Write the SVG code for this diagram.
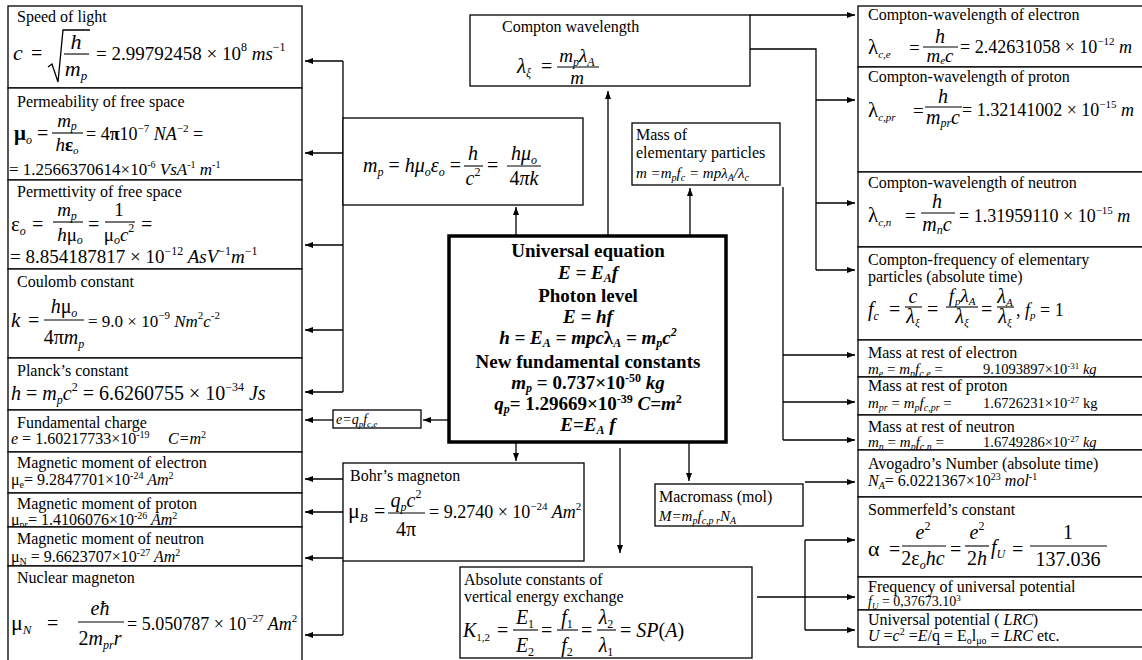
<svg xmlns="http://www.w3.org/2000/svg" width="1142" height="660" viewBox="0 0 1142 660">
<defs>
<style>
text{font-family:"Liberation Serif","Times New Roman",serif;fill:#000}
.lb{font-size:16px}
.i{font-style:italic}
.n{font-style:normal}
.b{font-weight:bold}
.m{text-anchor:middle}
.bx{fill:#fff;stroke:#000;stroke-width:1.3}
.cbx{fill:#fff;stroke:#000;stroke-width:3.5}
.fr{stroke:#000;stroke-width:1.1}
.cn{fill:none;stroke:#000;stroke-width:1.3}
.ar{fill:none;stroke:#000;stroke-width:1.3;marker-end:url(#ah)}
</style>
<marker id="ah" viewBox="0 0 8 6" refX="8" refY="3" markerWidth="8" markerHeight="6" markerUnits="userSpaceOnUse" orient="auto"><path d="M0,0 L8,3 L0,6 z" fill="#000"/></marker>
</defs>
<rect width="1142" height="660" fill="#fff"/>
<g font-size="20">

<g id="connectors">
<path class="cn" d="M343,61 V392"/>
<path class="ar" d="M343,61 H305"/>
<path class="ar" d="M343,153 H305"/>
<path class="ar" d="M343,245 H305"/>
<path class="ar" d="M343,330 H305"/>
<path class="ar" d="M343,392 H305"/>
<path class="ar" d="M449,420 H423"/>
<path class="ar" d="M333,420 H305"/>
<path class="cn" d="M343,561 V635"/>
<path class="ar" d="M343,479 H305"/>
<path class="ar" d="M343,512 H305"/>
<path class="ar" d="M343,558 H305"/>
<path class="ar" d="M343,635 H305"/>
<path class="ar" d="M516,236 V207"/>
<path class="ar" d="M608,236 V91"/>
<path class="ar" d="M690,236 V188"/>
<path class="ar" d="M516,442 V461"/>
<path class="ar" d="M620,448 V553"/>
<path class="ar" d="M689,442 V481"/>
<path class="ar" d="M750,15 H855"/>
<path class="cn" d="M750,49 H816 V270"/>
<path class="ar" d="M816,100 H855"/>
<path class="ar" d="M816,203 H855"/>
<path class="ar" d="M816,270 H855"/>
<path class="cn" d="M783,187 V440"/>
<path class="ar" d="M783,355 H855"/>
<path class="ar" d="M783,402 H855"/>
<path class="ar" d="M783,440 H855"/>
<path class="ar" d="M805,482 H855"/>
<path class="ar" d="M757,597 H855"/>
<path class="cn" d="M805,540 V630"/>
<path class="ar" d="M805,540 H855"/>
<path class="ar" d="M805,630 H855"/>
</g>

<g id="n-speed">
<rect class="bx" x="8" y="6" width="294" height="82"/>
<text class="lb" x="17" y="22">Speed of light</text>
<text class="i" x="13" y="60" font-size="22">c</text>
<text x="31" y="60">=</text>
<path class="cn" d="M48,67 L52,64 L58,82 L63,30 L90,30"/>
<text class="i m" x="76" y="49" font-size="22">h</text>
<line class="fr" x1="64" y1="54" x2="89" y2="54"/>
<text class="i m" x="76" y="76" font-size="22">m<tspan font-size="13" dy="4">p</tspan></text>
<text x="96" y="60" font-size="19">= 2.99792458 × 10<tspan font-size="12" dy="-9">8</tspan><tspan class="i" dy="9"> ms</tspan><tspan font-size="12" dy="-9">−1</tspan></text>
</g>

<g id="n-permeability">
<rect class="bx" x="8" y="88" width="294" height="92"/>
<text class="lb" x="17" y="107">Permeability of free space</text>
<text x="14" y="140" font-size="21" font-weight="bold">μ<tspan class="i" font-size="12" dy="4" font-weight="normal">o</tspan></text>
<text x="37" y="140">=</text>
<text class="i m" x="67" y="127" font-size="19">m<tspan font-size="12" dy="3">p</tspan></text>
<line class="fr" x1="52" y1="133" x2="83" y2="133"/>
<text class="m" x="67" y="151" font-size="19"><tspan class="i">h</tspan><tspan font-weight="bold">ε</tspan><tspan class="i" font-size="11" dy="3">o</tspan></text>
<text x="86" y="140" font-size="18">= 4<tspan font-weight="bold">π</tspan>10<tspan font-size="11" dy="-8">−7</tspan><tspan class="i" dy="8"> NA</tspan><tspan font-size="11" dy="-8">−2</tspan><tspan dy="8"> =</tspan></text>
<text x="9" y="175" font-size="17">= 1.2566370614×10<tspan font-size="10" dy="-7">-6</tspan><tspan class="i" dy="7"> VsA</tspan><tspan font-size="10" dy="-7">-1</tspan><tspan class="i" dy="7"> m</tspan><tspan font-size="10" dy="-7">-1</tspan></text>
</g>

<g id="n-permettivity">
<rect class="bx" x="8" y="180" width="294" height="89"/>
<text class="lb" x="17" y="197">Permettivity of free space</text>
<text x="11" y="231" font-size="21">ε<tspan class="i" font-size="12" dy="4">o</tspan></text>
<text x="32" y="231">=</text>
<text class="i m" x="67" y="216" font-size="19">m<tspan font-size="12" dy="4">p</tspan></text>
<line class="fr" x1="53" y1="222" x2="83" y2="222"/>
<text class="m" x="70" y="241" font-size="19"><tspan class="i">h</tspan>μ<tspan class="i" font-size="12" dy="3">o</tspan></text>
<text x="88" y="231">=</text>
<text class="m" x="119" y="216" font-size="19">1</text>
<line class="fr" x1="105" y1="222" x2="135" y2="222"/>
<text class="m" x="119" y="241" font-size="19">μ<tspan class="i" font-size="12" dy="3">o</tspan><tspan class="i" dy="-3">c</tspan><tspan font-size="12" dy="-9">2</tspan></text>
<text x="141" y="231">=</text>
<text x="10" y="263" font-size="19">= 8.854187817 × 10<tspan font-size="12" dy="-8">−12</tspan><tspan class="i" dy="8"> AsV</tspan><tspan font-size="12" dy="-8">−1</tspan><tspan class="i" dy="8">m</tspan><tspan font-size="12" dy="-8">−1</tspan></text>
</g>

<g id="n-coulomb">
<rect class="bx" x="8" y="269" width="294" height="89"/>
<text class="lb" x="17" y="287">Coulomb constant</text>
<text class="i" x="11" y="327" font-size="21">k</text>
<text x="28" y="327">=</text>
<text class="m" x="64" y="313"><tspan class="i">h</tspan>μ<tspan class="i" font-size="12" dy="4">o</tspan></text>
<line class="fr" x1="44" y1="320" x2="84" y2="320"/>
<text class="m" x="64" y="344">4π<tspan class="i">m</tspan><tspan class="i" font-size="12" dy="4">p</tspan></text>
<text x="88" y="327" font-size="17">= 9.0 × 10<tspan font-size="11" dy="-8">−9</tspan><tspan class="i" dy="8"> Nm</tspan><tspan font-size="11" dy="-8">2</tspan><tspan class="i" dy="8">c</tspan><tspan font-size="11" dy="-8">-2</tspan></text>
</g>

<g id="n-planck">
<rect class="bx" x="8" y="358" width="294" height="52"/>
<text class="lb" x="17" y="376">Planck’s constant</text>
<text x="11" y="400"><tspan class="i">h</tspan> = <tspan class="i">m</tspan><tspan class="i" font-size="12" dy="4">p</tspan><tspan class="i" dy="-4">c</tspan><tspan font-size="12" dy="-9">2</tspan><tspan dy="9"> = 6.6260755 × 10</tspan><tspan font-size="12" dy="-9">−34</tspan><tspan class="i" dy="9"> Js</tspan></text>
</g>

<g id="n-charge">
<rect class="bx" x="8" y="410" width="294" height="42"/>
<text class="lb" x="17" y="428">Fundamental charge</text>
<text x="11" y="444" font-size="16"><tspan class="i">e</tspan> = 1.60217733×10<tspan font-size="10" dy="-6">-19</tspan></text>
<text class="i" x="168" y="444" font-size="16">C=m<tspan class="n" font-size="10" dy="-6">2</tspan></text>
</g>

<g id="n-mu-electron">
<rect class="bx" x="8" y="452" width="294" height="41"/>
<text class="lb" x="17" y="468">Magnetic moment of electron</text>
<text x="11" y="485" font-size="16">μ<tspan font-size="10" dy="3">e</tspan><tspan dy="-3">= 9.2847701×10</tspan><tspan font-size="10" dy="-6">-24</tspan><tspan class="i" dy="6"> Am</tspan><tspan font-size="10" dy="-6">2</tspan></text>
</g>

<g id="n-mu-proton">
<rect class="bx" x="8" y="493" width="294" height="34"/>
<text class="lb" x="17" y="509">Magnetic moment of proton</text>
<text x="11" y="525" font-size="16">μ<tspan font-size="10" dy="3">pr</tspan><tspan dy="-3">= 1.4106076×10</tspan><tspan font-size="10" dy="-6">-26</tspan><tspan class="i" dy="6"> Am</tspan><tspan font-size="10" dy="-6">2</tspan></text>
</g>

<g id="n-mu-neutron">
<rect class="bx" x="8" y="527" width="294" height="39"/>
<text class="lb" x="17" y="544">Magnetic moment of neutron</text>
<text x="11" y="562" font-size="16">μ<tspan font-size="10" dy="3">N</tspan><tspan dy="-3"> = 9.6623707×10</tspan><tspan font-size="10" dy="-6">-27</tspan><tspan class="i" dy="6"> Am</tspan><tspan font-size="10" dy="-6">2</tspan></text>
</g>

<g id="n-nuclear">
<rect class="bx" x="8" y="566" width="294" height="104"/>
<text class="lb" x="17" y="583">Nuclear magneton</text>
<text x="11" y="630" font-size="22">μ<tspan class="i" font-size="13" dy="4">N</tspan></text>
<text x="47" y="630">=</text>
<text class="i m" x="100" y="615">eħ</text>
<line class="fr" x1="78" y1="622" x2="124" y2="622"/>
<text class="i m" x="100" y="645"><tspan class="n">2</tspan>m<tspan font-size="12" dy="4">pr</tspan><tspan dy="-4">r</tspan></text>
<text x="127" y="630" font-size="18">= 5.050787 × 10<tspan font-size="11" dy="-8">−27</tspan><tspan class="i" dy="8"> Am</tspan><tspan font-size="11" dy="-8">2</tspan></text>
</g>

<g id="n-mp">
<rect class="bx" x="343" y="118" width="240" height="87"/>
<text class="i" x="363" y="172">m<tspan font-size="12" dy="4">p</tspan><tspan class="n" dy="-4"> = </tspan>hμ<tspan font-size="12" dy="4">o</tspan><tspan dy="-4">ε</tspan><tspan font-size="12" dy="4">o</tspan><tspan class="n" dy="-4"> =</tspan></text>
<text class="i m" x="473" y="160">h</text>
<line class="fr" x1="464" y1="166" x2="483" y2="166"/>
<text class="i m" x="473" y="185">c<tspan class="n" font-size="12" dy="-9">2</tspan></text>
<text x="487" y="172">=</text>
<text class="i m" x="524" y="160">hμ<tspan font-size="12" dy="4">o</tspan></text>
<line class="fr" x1="507" y1="166" x2="541" y2="166"/>
<text class="i m" x="524" y="185"><tspan class="n">4</tspan>πk</text>
</g>

<g id="n-compton">
<rect class="bx" x="470" y="15" width="280" height="71"/>
<text class="lb" x="502" y="32">Compton wavelength</text>
<text class="i" x="517" y="73" font-size="21">λ<tspan font-size="12" dy="4">ξ</tspan></text>
<text x="541" y="73">=</text>
<text class="i m" x="577" y="62" font-size="19">m<tspan font-size="12" dy="4">p</tspan><tspan dy="-4">λ</tspan><tspan font-size="12" dy="4">A</tspan></text>
<line class="fr" x1="557" y1="67" x2="599" y2="67"/>
<text class="i m" x="577" y="84" font-size="19">m</text>
</g>

<g id="n-mass">
<rect class="bx" x="632" y="123" width="148" height="62"/>
<text class="lb" x="636" y="140">Mass of</text>
<text class="lb" x="636" y="158">elementary particles</text>
<text class="i" x="636" y="178" font-size="15">m =m<tspan font-size="10" dy="3">p</tspan><tspan dy="-3">f</tspan><tspan font-size="10" dy="3">c</tspan><tspan dy="-3"> = mpλ</tspan><tspan font-size="10" dy="3">A</tspan><tspan dy="-3">/λ</tspan><tspan font-size="10" dy="3">c</tspan></text>
</g>

<g id="n-universal">
<rect class="cbx" x="449" y="236" width="277" height="206"/>
<text class="b m" x="588" y="257" font-size="19">Universal equation</text>
<text class="b i m" x="588" y="279" font-size="19">E = E<tspan font-size="12" dy="3">A</tspan><tspan dy="-3">f</tspan></text>
<text class="b m" x="588" y="302" font-size="19">Photon level</text>
<text class="b i m" x="588" y="323" font-size="19">E = hf</text>
<text class="b i m" x="588" y="344" font-size="19">h = E<tspan font-size="12" dy="3">A</tspan><tspan dy="-3"> = mpc</tspan><tspan class="n">λ</tspan><tspan font-size="12" dy="3">A</tspan><tspan dy="-3"> = m</tspan><tspan font-size="12" dy="3">p</tspan><tspan dy="-3">c</tspan><tspan font-size="12" dy="-8">2</tspan></text>
<text class="b m" x="588" y="368" font-size="19">New fundamental constants</text>
<text class="b m" x="588" y="389" font-size="19"><tspan class="i">m</tspan><tspan class="i" font-size="12" dy="3">p</tspan><tspan dy="-3"> = 0.737×10</tspan><tspan font-size="12" dy="-7">-50</tspan><tspan class="i" dy="7"> kg</tspan></text>
<text class="b m" x="588" y="410" font-size="19"><tspan class="i">q</tspan><tspan class="i" font-size="12" dy="3">p</tspan><tspan dy="-3">= 1.29669×10</tspan><tspan font-size="12" dy="-7">-39</tspan><tspan class="i" dy="7"> C=m</tspan><tspan font-size="12" dy="-7">2</tspan></text>
<text class="b i m" x="588" y="431" font-size="19">E=E<tspan font-size="12" dy="3">A</tspan><tspan dy="-3"> f</tspan></text>
</g>

<g id="n-e">
<rect class="bx" x="333" y="410" width="88" height="18"/>
<text class="i" x="336" y="424" font-size="14">e=q<tspan font-size="9" dy="3">p</tspan><tspan dy="-3">f</tspan><tspan font-size="9" dy="3">c,e</tspan></text>
</g>

<g id="n-bohr">
<rect class="bx" x="343" y="463" width="241" height="98"/>
<text class="lb" x="350" y="481">Bohr’s magneton</text>
<text x="348" y="518" font-size="22">μ<tspan class="i" font-size="13" dy="4">B</tspan></text>
<text x="374" y="518">=</text>
<text class="i m" x="406" y="507">q<tspan font-size="12" dy="4">p</tspan><tspan dy="-4">c</tspan><tspan class="n" font-size="12" dy="-9">2</tspan></text>
<line class="fr" x1="388" y1="513" x2="425" y2="513"/>
<text class="m" x="406" y="536">4π</text>
<text x="429" y="518" font-size="18">= 9.2740 × 10<tspan font-size="11" dy="-8">−24</tspan><tspan class="i" dy="8"> Am</tspan><tspan font-size="11" dy="-8">2</tspan></text>
</g>

<g id="n-absolute">
<rect class="bx" x="460" y="567" width="292" height="91"/>
<text class="lb" x="464" y="585">Absolute constants of</text>
<text class="lb" x="464" y="602">vertical energy exchange</text>
<text class="i" x="463" y="637">K<tspan class="n" font-size="11" dy="4">1,2</tspan></text>
<text x="497" y="637">=</text>
<text class="i m" x="525" y="624">E<tspan class="n" font-size="12" dy="4">1</tspan></text>
<line class="fr" x1="513" y1="630" x2="538" y2="630"/>
<text class="i m" x="525" y="652">E<tspan class="n" font-size="12" dy="4">2</tspan></text>
<text x="541" y="637">=</text>
<text class="i m" x="567" y="624">f<tspan class="n" font-size="12" dy="4">1</tspan></text>
<line class="fr" x1="557" y1="630" x2="578" y2="630"/>
<text class="i m" x="567" y="652">f<tspan class="n" font-size="12" dy="4">2</tspan></text>
<text x="581" y="637">=</text>
<text class="i m" x="606" y="624">λ<tspan class="n" font-size="12" dy="4">2</tspan></text>
<line class="fr" x1="597" y1="630" x2="616" y2="630"/>
<text class="i m" x="606" y="652">λ<tspan class="n" font-size="12" dy="4">1</tspan></text>
<text x="620" y="637">= <tspan class="i">SP</tspan>(<tspan class="i">A</tspan>)</text>
</g>

<g id="n-macromass">
<rect class="bx" x="655" y="484" width="148" height="42"/>
<text class="lb" x="659" y="502">Macromass (mol)</text>
<text class="i" x="659" y="521" font-size="15">M=m<tspan font-size="10" dy="3">p</tspan><tspan dy="-3">f</tspan><tspan font-size="10" dy="3">c,p r</tspan><tspan dy="-3">N</tspan><tspan font-size="10" dy="3">A</tspan></text>
</g>

<g id="n-cw-electron">
<rect class="bx" x="858" y="6" width="292" height="61"/>
<text class="lb" x="868" y="20">Compton-wavelength of electron</text>
<text x="868" y="54" font-size="21">λ<tspan class="i" font-size="11" dy="4">c,e</tspan></text>
<text x="909" y="54" font-size="19">=</text>
<text class="i m" x="940" y="43">h</text>
<line class="fr" x1="923" y1="47" x2="958" y2="47"/>
<text class="i m" x="940" y="62" font-size="19">m<tspan font-size="11" dy="2">e</tspan><tspan dy="-2">c</tspan></text>
<text x="960" y="53" font-size="18">= 2.42631058 × 10<tspan font-size="11" dy="-8">−12</tspan><tspan class="i" dy="8"> m</tspan></text>
</g>

<g id="n-cw-proton">
<rect class="bx" x="858" y="67" width="292" height="105"/>
<text class="lb" x="868" y="82">Compton-wavelength of proton</text>
<text x="868" y="117" font-size="21">λ<tspan class="i" font-size="11" dy="4">c,pr</tspan></text>
<text x="913" y="117" font-size="19">=</text>
<text class="i m" x="943" y="103">h</text>
<line class="fr" x1="925" y1="107" x2="962" y2="107"/>
<text class="i m" x="943" y="124">m<tspan font-size="12" dy="3">pr</tspan><tspan dy="-3">c</tspan></text>
<text x="962" y="116" font-size="18">= 1.32141002 × 10<tspan font-size="11" dy="-8">−15</tspan><tspan class="i" dy="8"> m</tspan></text>
</g>

<g id="n-cw-neutron">
<rect class="bx" x="858" y="172" width="292" height="75"/>
<text class="lb" x="868" y="188">Compton-wavelength of neutron</text>
<text x="868" y="222" font-size="21">λ<tspan class="i" font-size="11" dy="4">c,n</tspan></text>
<text x="905" y="222" font-size="19">=</text>
<text class="i m" x="937" y="208">h</text>
<line class="fr" x1="921" y1="213" x2="955" y2="213"/>
<text class="i m" x="937" y="231">m<tspan font-size="12" dy="3">n</tspan><tspan dy="-3">c</tspan></text>
<text x="959" y="222" font-size="18">= 1.31959110 × 10<tspan font-size="11" dy="-8">−15</tspan><tspan class="i" dy="8"> m</tspan></text>
</g>

<g id="n-cfreq">
<rect class="bx" x="858" y="247" width="292" height="93"/>
<text class="lb" x="868" y="265">Compton-frequency of elementary</text>
<text class="lb" x="868" y="282">particles (absolute time)</text>
<text class="i" x="868" y="316">f<tspan font-size="12" dy="4">c</tspan></text>
<text x="889" y="316">=</text>
<text class="i m" x="913" y="303">c</text>
<line class="fr" x1="905" y1="307" x2="922" y2="307"/>
<text class="i m" x="913" y="323">λ<tspan font-size="11" dy="3">ξ</tspan></text>
<text x="927" y="316">=</text>
<text class="i m" x="962" y="302" font-size="19">f<tspan font-size="11" dy="3" dx="1">p</tspan><tspan dy="-3">λ</tspan><tspan font-size="11" dy="3">A</tspan></text>
<line class="fr" x1="946" y1="307" x2="978" y2="307"/>
<text class="i m" x="962" y="323">λ<tspan font-size="11" dy="3">ξ</tspan></text>
<text x="981" y="316">=</text>
<text class="i m" x="1005" y="303">λ<tspan font-size="11" dy="3">A</tspan></text>
<line class="fr" x1="997" y1="307" x2="1014" y2="307"/>
<text class="i m" x="1005" y="323">λ<tspan font-size="11" dy="3">ξ</tspan></text>
<text x="1016" y="316" font-size="18">, <tspan class="i">f</tspan><tspan class="i" font-size="11" dy="3">p</tspan><tspan dy="-3"> = 1</tspan></text>
</g>

<g id="n-mass-e">
<rect class="bx" x="858" y="340" width="292" height="37"/>
<text class="lb" x="868" y="358">Mass at rest of electron</text>
<text x="868" y="374" font-size="15"><tspan class="i">m</tspan><tspan class="i" font-size="10" dy="3">e</tspan><tspan dy="-3"> = </tspan><tspan class="i">m</tspan><tspan class="i" font-size="10" dy="3">p</tspan><tspan class="i" dy="-3">f</tspan><tspan class="i" font-size="10" dy="3">c,e</tspan><tspan dy="-3"> =</tspan></text>
<text x="983" y="374" font-size="14.5">9.1093897×10<tspan font-size="9" dy="-5">-31</tspan><tspan class="i" dy="5"> kg</tspan></text>
</g>

<g id="n-mass-pr">
<rect class="bx" x="858" y="377" width="292" height="38"/>
<text class="lb" x="868" y="391">Mass at rest of proton</text>
<text x="868" y="408" font-size="15"><tspan class="i">m</tspan><tspan class="i" font-size="10" dy="3">pr</tspan><tspan dy="-3"> = </tspan><tspan class="i">m</tspan><tspan class="i" font-size="10" dy="3">p</tspan><tspan class="i" dy="-3">f</tspan><tspan class="i" font-size="10" dy="3">c,pr</tspan><tspan dy="-3"> =</tspan></text>
<text x="983" y="408" font-size="14.5">1.6726231×10<tspan font-size="9" dy="-5">-27</tspan><tspan dy="5"> kg</tspan></text>
</g>

<g id="n-mass-n">
<rect class="bx" x="858" y="415" width="292" height="35"/>
<text class="lb" x="868" y="432">Mass at rest of neutron</text>
<text x="868" y="447" font-size="15"><tspan class="i">m</tspan><tspan class="i" font-size="10" dy="3">n</tspan><tspan dy="-3"> = </tspan><tspan class="i">m</tspan><tspan class="i" font-size="10" dy="3">p</tspan><tspan class="i" dy="-3">f</tspan><tspan class="i" font-size="10" dy="3">c,n</tspan><tspan dy="-3"> =</tspan></text>
<text x="983" y="447" font-size="14.5">1.6749286×10<tspan font-size="9" dy="-5">-27</tspan><tspan class="i" dy="5"> kg</tspan></text>
</g>

<g id="n-avogadro">
<rect class="bx" x="858" y="450" width="292" height="47"/>
<text class="lb" x="868" y="469">Avogadro’s Number (absolute time)</text>
<text x="868" y="486" font-size="16"><tspan class="i">N</tspan><tspan class="i" font-size="10" dy="3">A</tspan><tspan dy="-3">= 6.0221367×10</tspan><tspan font-size="10" dy="-6">23</tspan><tspan class="i" dy="6"> mol</tspan><tspan font-size="10" dy="-6">-1</tspan></text>
</g>

<g id="n-sommerfeld">
<rect class="bx" x="858" y="497" width="292" height="80"/>
<text class="lb" x="868" y="515">Sommerfeld’s constant</text>
<text x="868" y="556" font-size="22">α</text>
<text x="889" y="556">=</text>
<text class="i m" x="923" y="539">e<tspan class="n" font-size="12" dy="-9">2</tspan></text>
<line class="fr" x1="902" y1="546" x2="946" y2="546"/>
<text class="m" x="923" y="565">2ε<tspan class="i" font-size="12" dy="4">o</tspan><tspan class="i" dy="-4">hc</tspan></text>
<text x="950" y="556">=</text>
<text class="i m" x="977" y="539">e<tspan class="n" font-size="12" dy="-9">2</tspan></text>
<line class="fr" x1="965" y1="546" x2="989" y2="546"/>
<text class="m" x="977" y="565">2<tspan class="i">h</tspan></text>
<text class="i" x="991" y="554">f<tspan font-size="12" dy="4">U</tspan></text>
<text x="1012" y="556">=</text>
<text class="m" x="1068" y="539">1</text>
<line class="fr" x1="1030" y1="546" x2="1107" y2="546"/>
<text class="m" x="1068" y="566">137.036</text>
</g>

<g id="n-freq-u">
<rect class="bx" x="858" y="577" width="292" height="33"/>
<text class="lb" x="868" y="592">Frequency of universal potential</text>
<text x="868" y="606" font-size="14"><tspan class="i">f</tspan><tspan class="i" font-size="9" dy="3">U</tspan><tspan dy="-3"> = 0,37673.10</tspan><tspan font-size="9" dy="-5">3</tspan></text>
</g>

<g id="n-potential">
<rect class="bx" x="858" y="610" width="292" height="37"/>
<text class="lb" x="868" y="625">Universal potential ( <tspan class="i">LRC</tspan>)</text>
<text x="868" y="641" font-size="16"><tspan class="i">U</tspan> =<tspan class="i">c</tspan><tspan font-size="10" dy="-6">2</tspan><tspan dy="6"> =</tspan><tspan class="i">E</tspan>/q = Ε<tspan font-size="10" dy="3">o</tspan><tspan dy="-3">l</tspan><tspan font-size="10" dy="3">μo</tspan><tspan dy="-3"> = </tspan><tspan class="i">LRC</tspan> etc.</text>
</g>

</g>
</svg>
